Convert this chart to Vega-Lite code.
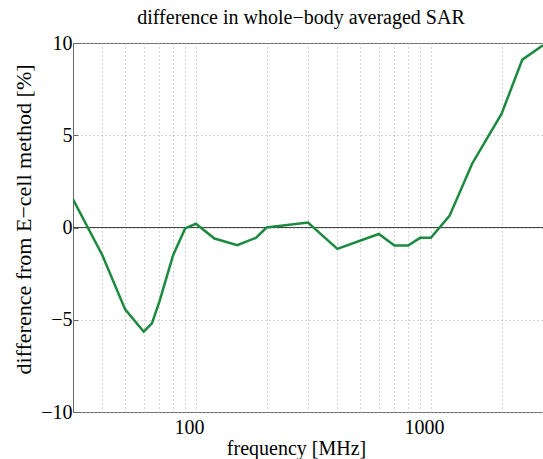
{
  "$schema": "https://vega.github.io/schema/vega-lite/v6.json",
  "width": 470,
  "height": 369,
  "autosize": "none",
  "padding": {"left": 73, "top": 43, "right": 0, "bottom": 47},
  "background": "white",
  "config": {
    "view": {"stroke": "#666666", "strokeWidth": 1},
    "font": "Liberation Serif"
  },
  "title": {
    "text": "difference in whole−body averaged SAR",
    "font": "Liberation Serif",
    "fontSize": 20,
    "fontWeight": "normal",
    "color": "#000000",
    "dx": -7,
    "offset": 5
  },
  "data": {
    "values": [
      {"f": 30, "d": 1.53},
      {"f": 40, "d": -1.5},
      {"f": 50, "d": -4.44},
      {"f": 60, "d": -5.65},
      {"f": 65, "d": -5.2},
      {"f": 70, "d": -4.0},
      {"f": 80, "d": -1.5},
      {"f": 90, "d": -0.05},
      {"f": 100, "d": 0.2},
      {"f": 120, "d": -0.6},
      {"f": 150, "d": -0.96},
      {"f": 180, "d": -0.56},
      {"f": 200, "d": 0.0},
      {"f": 300, "d": 0.27},
      {"f": 400, "d": -1.16},
      {"f": 600, "d": -0.35},
      {"f": 700, "d": -0.98},
      {"f": 800, "d": -0.98},
      {"f": 900, "d": -0.56},
      {"f": 1000, "d": -0.56},
      {"f": 1200, "d": 0.63},
      {"f": 1500, "d": 3.47},
      {"f": 2000, "d": 6.17},
      {"f": 2450, "d": 9.1},
      {"f": 3000, "d": 9.88}
    ]
  },
  "layer": [
    {
      "mark": {"type": "rule", "color": "#444444", "strokeWidth": 1},
      "encoding": {"y": {"datum": 0, "type": "quantitative"}}
    },
    {
      "mark": {"type": "line", "color": "#1a8a3e", "strokeWidth": 2.5, "clip": true},
      "encoding": {
        "x": {
          "field": "f",
          "type": "quantitative",
          "scale": {"type": "log", "domain": [30, 3000], "nice": false},
          "axis": {
            "values": [40, 50, 60, 70, 80, 90, 100, 200, 300, 400, 500, 600, 700, 800, 900, 1000, 2000],
            "labelExpr": "datum.value == 100 || datum.value == 1000 ? datum.value : ''",
            "title": "frequency [MHz]",
            "titleFont": "Liberation Serif",
            "titleFontSize": 20,
            "titleFontWeight": "normal",
            "titleColor": "#000000",
            "titleX": 223,
            "titlePadding": 1,
            "labelFont": "Liberation Serif",
            "labelFontSize": 20,
            "labelColor": "#000000",
            "labelPadding": 5,
            "labelOffset": -7,
            "labelFlush": false,
            "labelOverlap": false,
            "grid": true,
            "gridColor": "#aaaaaa",
            "gridDash": [1, 3],
            "gridWidth": 1,
            "ticks": false,
            "domain": false
          }
        },
        "y": {
          "field": "d",
          "type": "quantitative",
          "scale": {"domain": [-10, 10], "nice": false},
          "axis": {
            "values": [-10, -5, 0, 5, 10],
            "title": "difference from E−cell method [%]",
            "titleFont": "Liberation Serif",
            "titleFontSize": 22,
            "titleFontWeight": "normal",
            "titleColor": "#000000",
            "titleY": 176,
            "titlePadding": 5,
            "labelFont": "Liberation Serif",
            "labelFontSize": 20,
            "labelColor": "#000000",
            "labelPadding": 6,
            "labelFlush": false,
            "grid": true,
            "gridColor": "#aaaaaa",
            "gridDash": [1, 3],
            "gridWidth": 1,
            "ticks": true,
            "tickSize": -5,
            "tickColor": "#666666",
            "domain": false
          }
        }
      }
    }
  ]
}
